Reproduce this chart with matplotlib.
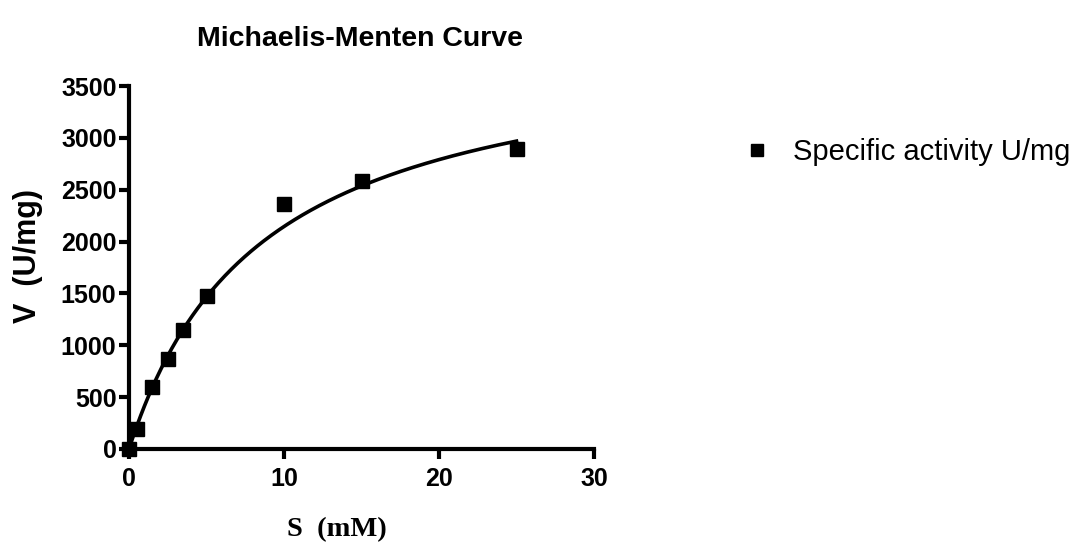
import numpy as np
import matplotlib
matplotlib.use("Agg")
import matplotlib.pyplot as plt

# Substrate concentration (mM) and measured specific activity (U/mg)
substrate = [0, 0.5, 1.5, 2.5, 3.5, 5, 10, 15, 25]
activity = [0, 190, 600, 870, 1150, 1480, 2360, 2580, 2890]

# Michaelis-Menten fit parameters
vmax = 3990
km = 8.6

x_ticks = [0, 10, 20, 30]
y_ticks = [0, 500, 1000, 1500, 2000, 2500, 3000, 3500]

plt.rcParams['font.family'] = ['Liberation Sans', 'DejaVu Sans']

W, H = 1082, 549
fig = plt.figure(figsize=(W / 100, H / 100), dpi=100)
ax = fig.add_axes([129 / W, 1 - 449 / H, 465 / W, 363 / H])

s_fit = np.linspace(0, max(substrate), 300)
v_fit = vmax * s_fit / (km + s_fit)
ax.plot(s_fit, v_fit, color='black', lw=2.6, clip_on=False, zorder=2)
ax.plot(substrate, activity, 's', color='black', ms=9.8, clip_on=False,
        zorder=3, label='Specific activity U/mg')

ax.set_xlim(0, 30)
ax.set_ylim(0, 3500)
ax.set_xticks(x_ticks)
ax.set_yticks(y_ticks)

for side in ['top', 'right']:
    ax.spines[side].set_visible(False)
for side in ['left', 'bottom']:
    ax.spines[side].set_linewidth(3)
ax.tick_params(direction='out', length=7, width=3, labelsize=18)
ax.tick_params(axis='x', pad=6)
ax.tick_params(axis='y', pad=2)
for lbl in ax.get_xticklabels() + ax.get_yticklabels():
    lbl.set_fontweight('bold')

fig.text(360 / W, 1 - 39 / H, 'Michaelis-Menten Curve', fontsize=20.5,
         fontweight='bold', ha='center', va='center')
fig.text(28 / W, 1 - 256 / H, 'V  (U/mg)', fontsize=22, fontweight='bold',
         rotation=90, ha='center', va='center')
fig.text(337 / W, 1 - 530 / H, 'S  (mM)', fontsize=20.5, fontweight='bold',
         family=['Liberation Serif', 'DejaVu Serif'], ha='center', va='center')

ax.legend(loc='center left', bbox_to_anchor=(742 / W, 1 - 152 / H),
          bbox_transform=fig.transFigure, frameon=False, fontsize=21,
          borderpad=0, borderaxespad=0, handlelength=1.0,
          handletextpad=0.74, markerscale=0.95)

fig.savefig('out.png', dpi=100)
